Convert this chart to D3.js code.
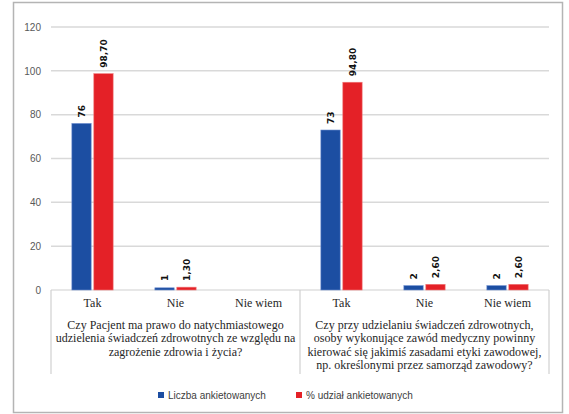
<!DOCTYPE html>
<html>
<head>
<meta charset="utf-8">
<script src="https://cdn.jsdelivr.net/npm/d3@7"></script>
<style>
  html, body { margin: 0; padding: 0; background: #fff; }
  svg { display: block; }
  .serif { font-family: "Liberation Serif", "DejaVu Serif", serif; }
</style>
</head>
<body>
<svg id="chart" width="569" height="414"></svg>
<script>
// Answer categories, grouped by question
const answers = ["Tak", "Nie", "Nie wiem", "Tak", "Nie", "Nie wiem"];
const questions = [
  ["Czy Pacjent ma prawo do natychmiastowego", "udzielenia świadczeń zdrowotnych ze względu na", "zagrożenie zdrowia i życia?"],
  ["Czy przy udzielaniu świadczeń zdrowotnych,", "osoby wykonujące zawód medyczny powinny", "kierować się jakimiś zasadami etyki zawodowej,", "np. określonymi przez samorząd zawodowy?"]
];
const countValues = [76, 1, null, 73, 2, 2];
const percentValues = [98.70, 1.30, null, 94.80, 2.60, 2.60];
const seriesNames = ["Liczba ankietowanych", "% udział ankietowanych"];
const yTicks = [0, 20, 40, 60, 80, 100, 120];

const colors = ["#1c4ea2", "#e42127"];
const svg = d3.select("#chart");

// frame
svg.append("rect").attr("x", 13.5).attr("y", 2.5).attr("width", 549).attr("height", 410)
  .attr("fill", "#fff").attr("stroke", "#b4b4b4").attr("stroke-width", 1.5);

const plotLeft = 51, plotRight = 549, plotTop = 27, plotBottom = 290;
const y = d3.scaleLinear().domain([0, 120]).range([plotBottom, plotTop]);
const idx = d3.range(answers.length);
const x = d3.scaleBand().domain(idx).range([plotLeft, plotRight]).paddingInner(0).paddingOuter(0);
const xs = d3.scaleBand().domain([0, 1]).range([0, x.bandwidth()]).paddingInner(0.12).paddingOuter(0.95);

// gridlines
svg.append("g").selectAll("line").data(yTicks.filter(t => t > 0)).join("line")
  .attr("x1", plotLeft).attr("x2", plotRight)
  .attr("y1", d => y(d)).attr("y2", d => y(d))
  .attr("stroke", "#d9d9d9").attr("stroke-width", 1.5);

// y axis labels
const yAxis = d3.axisLeft(y).tickValues(yTicks).tickSize(0).tickPadding(10);
const gy = svg.append("g").attr("transform", `translate(${plotLeft},0)`).call(yAxis);
gy.select(".domain").remove();
gy.selectAll("text").attr("font-family", "Liberation Sans, Arial, sans-serif")
  .attr("font-size", 10).attr("fill", "#595959");

// category axis: baseline and group separators
const axisG = svg.append("g");
axisG.append("line").attr("x1", plotLeft).attr("x2", plotRight).attr("y1", plotBottom).attr("y2", plotBottom)
  .attr("stroke", "#d0d0d0").attr("stroke-width", 1.2);
[0, 3, 6].forEach(i => {
  const xv = i < 6 ? x(i) : plotRight;
  axisG.append("line").attr("x1", xv).attr("x2", xv).attr("y1", plotBottom).attr("y2", 374)
    .attr("stroke", "#d0d0d0").attr("stroke-width", 1.2);
});

axisG.selectAll("text.ans").data(idx).join("text").attr("class", "ans serif")
  .attr("x", i => x(i) + x.bandwidth() / 2).attr("y", 307)
  .attr("text-anchor", "middle").attr("font-size", 12)
  .attr("fill", "#262626").text(i => answers[i]);

questions.forEach((lines, g) => {
  const cx = (x(g * 3) + (g === 0 ? x(3) : plotRight)) / 2;
  axisG.append("g").selectAll("text").data(lines).join("text").attr("class", "serif")
    .attr("x", cx).attr("y", (d, k) => 329 + k * 13.4)
    .attr("text-anchor", "middle").attr("font-size", 12)
    .attr("fill", "#262626").text(d => d);
});

// bars and value labels
const series = [countValues, percentValues];
const fmt = (v, s) => s === 0 ? String(v) : v.toFixed(2).replace(".", ",");
series.forEach((vals, s) => {
  const data = idx.filter(i => vals[i] != null).map(i => ({ i, v: vals[i] }));
  svg.append("g").selectAll("rect").data(data).join("rect")
    .attr("x", d => x(d.i) + xs(s)).attr("width", xs.bandwidth())
    .attr("y", d => y(d.v)).attr("height", d => Math.max(y(0) - y(d.v), 0))
    .attr("fill", colors[s]).attr("stroke", s === 0 ? "#6f8fd0" : "#f07a7a").attr("stroke-width", 0.6);
  svg.append("g").selectAll("text").data(data).join("text")
    .attr("transform", d => `translate(${x(d.i) + xs(s) + xs.bandwidth() / 2 + 3.5},${Math.min(y(d.v), y(0) - 3) - 6}) rotate(-90)`)
    .attr("text-anchor", "start").attr("font-family", "DejaVu Sans, Arial, sans-serif")
    .attr("font-weight", "bold").attr("font-size", 9).attr("fill", "#111")
    .text(d => fmt(d.v, s));
});

// legend
const legendItems = [{ x: 158, name: seriesNames[0], c: colors[0] }, { x: 296, name: seriesNames[1], c: colors[1] }];
const lg = svg.append("g");
legendItems.forEach(it => {
  lg.append("rect").attr("x", it.x).attr("y", 392).attr("width", 6).attr("height", 6).attr("fill", it.c);
  lg.append("text").attr("x", it.x + 10).attr("y", 398.5)
    .attr("font-family", "Liberation Sans, Arial, sans-serif").attr("font-size", 10)
    .attr("fill", "#404040").text(it.name);
});
</script>
</body>
</html>
